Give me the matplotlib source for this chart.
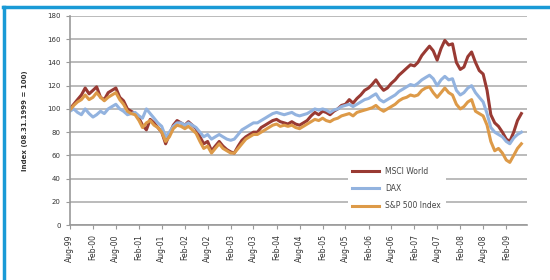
import numpy as np
import pandas as pd
import matplotlib
matplotlib.use('Agg')
import matplotlib.pyplot as plt
from matplotlib.lines import Line2D

# monthly index values, Aug-99 .. Jun-09
msci_world = [100, 104, 108, 112, 118, 113, 116, 119, 110, 108, 114, 116,
              118, 110, 107, 100, 98, 96, 92, 86, 82, 91, 88, 84,
              80, 70, 78, 86, 90, 88, 86, 89, 86, 83, 76, 70,
              72, 64, 68, 72, 68, 65, 63, 62, 68, 73, 76, 78,
              80, 80, 84, 86, 88, 90, 91, 89, 88, 87, 89, 87,
              86, 88, 90, 94, 97, 95, 98, 97, 95, 98, 100, 103,
              104, 108, 105, 109, 112, 116, 118, 121, 125, 120, 116, 118,
              122, 125, 129, 132, 135, 138, 137, 140, 146, 150, 154, 150,
              142, 152, 159, 155, 156, 140, 134, 136, 145, 149, 140, 133,
              130, 116, 95, 88, 85, 80, 74, 72, 80, 90, 96]
dax = [98, 100, 97, 95, 100, 96, 93, 95, 98, 96, 100, 102,
       104, 100, 98, 95, 96, 97, 94, 92, 100, 96, 92, 88,
       85, 76, 80, 85, 88, 88, 86, 88, 86, 84, 80, 76,
       78, 74, 76, 78, 76, 74, 73, 74, 78, 82, 84, 86,
       88, 88, 90, 92, 94, 96, 97, 96, 95, 96, 97, 95,
       94, 95, 96, 98, 100, 99, 100, 99, 97, 99, 100, 102,
       103, 104, 102, 104, 106, 108, 109, 111, 113, 108, 106, 108,
       110, 112, 115, 117, 119, 121, 120, 122, 125, 127, 129, 126,
       120, 125, 128, 125, 126, 116, 112, 114, 118, 120, 114, 110,
       106, 96, 84, 80, 78, 76, 72, 70, 75, 78, 80]
sp500 = [99, 103, 106, 108, 112, 108, 110, 114, 110, 107, 110, 112,
         114, 108, 104, 98, 96, 95, 90, 84, 88, 90, 86, 84,
         80, 72, 76, 83, 86, 85, 83, 85, 82, 79, 72, 66,
         68, 62, 66, 70, 66, 64, 62, 62, 66, 70, 74, 76,
         78, 78, 80, 82, 84, 86, 87, 85, 86, 85, 86, 84,
         83, 85, 87, 89, 91, 90, 92, 90, 89, 91, 92, 94,
         95, 96, 94, 97, 98, 99, 100, 101, 103, 100, 98, 100,
         102, 104, 107, 109, 110, 112, 111, 112, 116, 118, 119, 114,
         110, 114, 118, 114, 112, 104, 100, 102, 106, 108, 98, 96,
         94, 86, 72, 64, 66, 62, 56, 54, 60, 66, 70]
series_names = ['MSCI World', 'DAX', 'S&P 500 Index']
colors = ['#993a33', '#93b3df', '#dd9a48']

dates = pd.date_range('1999-08-01', periods=len(msci_world), freq='MS')
tick_dates = pd.date_range('1999-08-01', '2009-02-01', freq='6MS')
tick_labels = [d.strftime('%b-%y') for d in tick_dates]

fig = plt.figure(figsize=(5.5, 2.8), dpi=100)
ax = fig.add_axes([0.127, 0.196, 0.831, 0.747])

for vals, name, c in zip([msci_world, dax, sp500], series_names, colors):
    ax.plot(dates, vals, color=c, lw=2.2, label=name)

ax.set_ylim(0, 180)
ax.set_yticks(np.arange(0, 181, 20))
ax.set_xlim(dates[0], pd.Timestamp('2009-07-15'))
ax.set_xticks(tick_dates)
ax.set_xticklabels(tick_labels, rotation=90, fontsize=5.5, color='#333333')
ax.tick_params(axis='y', labelsize=5, colors='#333333', length=3, color='#999999')
ax.tick_params(axis='x', length=3, color='#999999')
ax.yaxis.grid(True, color='#b5b5b5', lw=1.3)
ax.set_axisbelow(True)
for s in ['top', 'right']:
    ax.spines[s].set_visible(False)
for s in ['left', 'bottom']:
    ax.spines[s].set_color('#999999')
    ax.spines[s].set_linewidth(1.2)

ax.set_ylabel('Index (08.31.1999 = 100)', fontsize=5, fontweight='bold', color='#333333', labelpad=14)

leg = ax.legend(loc='upper left', bbox_to_anchor=(0.6, 0.32), fontsize=5.5,
                frameon=True, facecolor='white', edgecolor='none', framealpha=1,
                handlelength=3.5, labelspacing=1.1, borderpad=0.6)
for t in leg.get_texts():
    t.set_color('#444444')

# blue frame at top and left
fig.add_artist(Line2D([0.006, 1.0], [0.975, 0.975], color='#1a9ad6', lw=2.5))
fig.add_artist(Line2D([0.007, 0.007], [0.0, 0.975], color='#1a9ad6', lw=2.5))

fig.savefig('out.png', dpi=100)
